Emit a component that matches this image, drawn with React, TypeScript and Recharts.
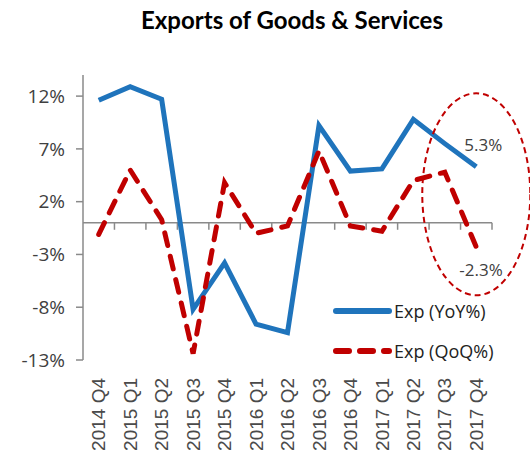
import React from "react";
import { LineChart, Line, XAxis, YAxis, ReferenceLine, ReferenceDot } from "recharts";

const quarters = [
  "2014 Q4", "2015 Q1", "2015 Q2", "2015 Q3", "2015 Q4", "2016 Q1", "2016 Q2",
  "2016 Q3", "2016 Q4", "2017 Q1", "2017 Q2", "2017 Q3", "2017 Q4",
];
const yoy = [11.6, 12.9, 11.7, -8.2, -3.8, -9.6, -10.4, 9.2, 4.9, 5.1, 9.8, 7.5, 5.3];
const qoq = [-1.1, 5.0, 0.3, -12.4, 3.8, -1.0, -0.3, 6.8, -0.3, -0.8, 4.0, 4.8, -2.3];
const yTicks = [-13, -8, -3, 2, 7, 12];
const seriesNames = ["Exp (YoY%)", "Exp (QoQ%)"];
const endLabels = ["5.3%", "-2.3%"];

const data = quarters.map((q, i) => ({ q, yoy: yoy[i], qoq: qoq[i] }));

const BLUE = "#1F74BC";
const RED = "#C00000";
const GREY = "#8A8A8A";
const TEXT = "#404040";

const XTick = (props: any) => {
  const { x, y, payload } = props;
  return (
    <text
      x={x}
      y={y + 16}
      transform={`rotate(-90, ${x}, ${y + 16})`}
      textAnchor="end"
      dy="0.35em"
      fontFamily="'Liberation Sans', Arial, sans-serif"
      fontSize={19}
      fill="#4a4a4a"
    >
      {payload.value}
    </text>
  );
};

const ZeroAxis = (props: any) => {
  const { x1, x2, y1 } = props;
  const n = quarters.length;
  const step = (x2 - x1) / n;
  const ticks = [];
  for (let i = 1; i <= n; i++) {
    const tx = x1 + step * i;
    ticks.push(<line key={i} x1={tx} x2={tx} y1={y1} y2={y1 + 7} stroke={GREY} strokeWidth={1.5} />);
  }
  return (
    <g>
      <line x1={x1} x2={x2} y1={y1} y2={y1} stroke={GREY} strokeWidth={1.5} />
      {ticks}
    </g>
  );
};

const makeEndLabel = (text: string, dx: number, dy: number) => (p: any) => {
  if (p.index !== quarters.length - 1) return <g />;
  return (
    <text
      x={p.x + dx}
      y={p.y + dy}
      fontFamily="'Open Sans', sans-serif"
      fontSize={17}
      fill={TEXT}
      dominantBaseline="central"
    >
      {text}
    </text>
  );
};

const EllipseShape = (p: any) => (
  <ellipse
    cx={p.cx}
    cy={p.cy}
    rx={54}
    ry={101}
    fill="none"
    stroke={RED}
    strokeWidth={2}
    strokeDasharray="6 4"
  />
);

const LegendBox = () => (
  <div
    style={{
      position: "absolute",
      left: 332,
      top: 291,
      fontFamily: "'Open Sans', sans-serif",
      fontSize: 18,
      color: "#222",
    }}
  >
    {seriesNames.map((name, i) => (
      <div key={name} style={{ display: "flex", alignItems: "center", height: 40 }}>
        <svg width={60} height={10} style={{ marginRight: 2 }}>
          <line
            x1={4}
            x2={57}
            y1={5}
            y2={5}
            stroke={i === 0 ? BLUE : RED}
            strokeWidth={6}
            strokeLinecap="round"
            strokeDasharray={i === 0 ? undefined : "13 11"}
          />
        </svg>
        <span>{name}</span>
      </div>
    ))}
  </div>
);

export default function App() {
  return (
    <div style={{ position: "absolute", left: 0, top: 0, width: 530, height: 463, background: "#fff" }}>
      <div
        style={{
          position: "absolute",
          left: 0,
          top: 5,
          width: 584,
          textAlign: "center",
          fontFamily: "Lato, 'Open Sans', sans-serif",
          fontWeight: 700,
          fontSize: 24,
          color: "#000",
        }}
      >
        Exports of Goods &amp; Services
      </div>
      <LineChart
        width={530}
        height={463}
        data={data}
        margin={{ top: 75, right: 38, left: 0, bottom: 0 }}
      >
        <XAxis
          dataKey="q"
          scale="band"
          interval={0}
          axisLine={false}
          tickLine={false}
          tickSize={0}
          height={103}
          tick={<XTick />}
        />
        <YAxis
          width={83}
          domain={[-13, 14]}
          ticks={yTicks}
          tickFormatter={(v: number) => `${v}%`}
          axisLine={{ stroke: GREY, strokeWidth: 1.5 }}
          tickLine={{ stroke: GREY, strokeWidth: 1.5 }}
          tickSize={7}
          tickMargin={11}
          tick={{ fontFamily: "'Open Sans', sans-serif", fontSize: 19, fill: TEXT }}
        />
        <ReferenceLine y={0} shape={<ZeroAxis />} />
        <Line
          dataKey="yoy"
          name={seriesNames[0]}
          stroke={BLUE}
          strokeWidth={5}
          dot={false}
          isAnimationActive={false}
          label={makeEndLabel(endLabels[0], -12, -22)}
        />
        <Line
          dataKey="qoq"
          name={seriesNames[1]}
          stroke={RED}
          strokeWidth={5}
          strokeDasharray="13 11"
          strokeLinecap="round"
          dot={false}
          isAnimationActive={false}
          label={makeEndLabel(endLabels[1], -17, 22)}
        />
        <ReferenceDot x="2017 Q4" y={2.7} ifOverflow="visible" shape={<EllipseShape />} />
      </LineChart>
      <LegendBox />
    </div>
  );
}
